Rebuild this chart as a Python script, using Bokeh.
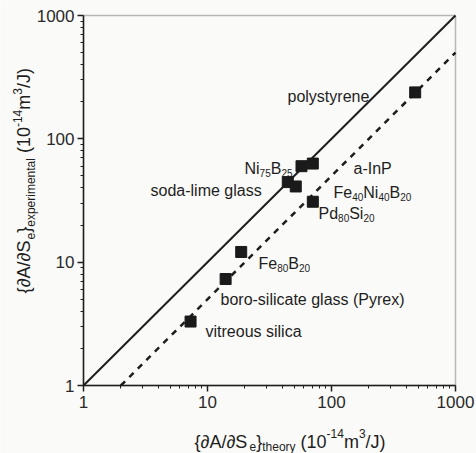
from math import pi
from bokeh.plotting import figure
from bokeh.models import Label, FixedTicker, Range1d, BasicTickFormatter, BoxAnnotation
from bokeh.embed import file_html
from bokeh.resources import INLINE

# ---------------- data ----------------
materials = ["vitreous silica", "boro-silicate glass (Pyrex)", "Fe80B20", "soda-lime glass",
             "Fe40Ni40B20", "Ni75B25", "a-InP", "Pd80Si20", "polystyrene"]
theory = [7.3, 14.0, 18.7, 44.4, 51.5, 57.3, 70.7, 70.7, 473.0]
experimental = [3.3, 7.3, 12.1, 44.6, 41.1, 60.0, 63.0, 30.9, 238.0]
ideal_x = [1, 1000]
ideal_y = [1, 1000]
half_x = [2, 1000]
half_y = [1, 500]
axis_lo, axis_hi = 1, 1000
major_ticks = [1, 10, 100, 1000]
minor_ticks = [m * d for d in (1, 10, 100) for m in range(2, 10)]

INK = "#1e1e1e"
BG = "#fafaf8"
FONT = "Liberation Sans"

# canvas geometry: the axes box spans these pixels; the frame covers the whole canvas
WIDTH, HEIGHT = 476, 453
BOX_L, BOX_R, BOX_T, BOX_B = 83, 455, 15, 385
DEC_X = (BOX_R - BOX_L) / 3.0
DEC_Y = (BOX_B - BOX_T) / 3.0
x_range = Range1d(10 ** (-BOX_L / DEC_X), 10 ** ((WIDTH - BOX_L) / DEC_X))
y_range = Range1d(10 ** ((BOX_B - HEIGHT) / DEC_Y), 10 ** (BOX_B / DEC_Y))

p = figure(width=WIDTH, height=HEIGHT, x_axis_type="log", y_axis_type="log",
           x_range=x_range, y_range=y_range,
           output_backend="svg", toolbar_location=None, min_border=0)
p.background_fill_color = BG
p.border_fill_color = BG
p.outline_line_color = None
p.xgrid.visible = False
p.ygrid.visible = False

p.add_layout(BoxAnnotation(left=axis_lo, right=axis_hi, bottom=axis_lo, top=axis_hi,
                           fill_alpha=0, line_color=INK, line_width=1.5))

for ax in (p.xaxis, p.yaxis):
    ax.fixed_location = axis_lo
    ax.bounds = (axis_lo, axis_hi)
    ax.ticker = FixedTicker(ticks=major_ticks, minor_ticks=minor_ticks)
    ax.formatter = BasicTickFormatter(use_scientific=False)
    ax.axis_line_color = INK
    ax.axis_line_width = 1.5
    ax.major_tick_line_color = INK
    ax.major_tick_line_width = 1.5
    ax.minor_tick_line_color = INK
    ax.minor_tick_line_width = 1
    ax.major_tick_in = 0
    ax.major_tick_out = 6
    ax.minor_tick_in = 0
    ax.minor_tick_out = 3
    ax.major_label_text_font = FONT
    ax.major_label_text_font_size = "17px"
    ax.major_label_text_color = "#2a2a2a"
p.xaxis.major_label_standoff = 4
p.yaxis.major_label_standoff = 3

p.line(ideal_x, ideal_y, line_color=INK, line_width=2)
p.line(half_x, half_y, line_color=INK, line_width=2.5, line_dash="6 6")
p.scatter(theory, experimental, marker="square", size=11, color="#1a1a1a")

# ---------------- rich text helper ----------------
W = {' ': 278, '(': 333, ')': 333, '{': 334, '}': 334, '/': 278, '-': 333, '.': 278,
     'A': 667, 'B': 667, 'F': 611, 'I': 278, 'J': 500, 'N': 722, 'P': 667, 'S': 667,
     'a': 556, 'b': 556, 'c': 500, 'd': 556, 'e': 556, 'g': 556, 'h': 556, 'i': 222,
     'l': 222, 'm': 833, 'n': 556, 'o': 556, 'p': 556, 'r': 333, 's': 500, 't': 278,
     'u': 556, 'v': 500, 'x': 500, 'y': 500, '\u2202': 556}


def tw(s, size):
    return sum(W.get(c, 556) for c in s) / 1000.0 * size


def rich(parts, px, py, size, small, vertical=False, color=INK):
    """Text runs with sub/superscripts; (px, py) is the canvas pixel of the baseline start."""
    pos = 0.0
    for txt, kind in parts:
        fs = size if kind == "n" else small
        shift = 0.0 if kind == "n" else (-0.28 * size if kind == "sub" else 0.42 * size)
        lead = len(txt) - len(txt.lstrip(" "))
        pos += tw(" " * lead, fs)
        core = txt.strip(" ")
        w = tw(core, fs)
        ox, oy = px - BOX_L, BOX_B - py
        if vertical:
            # each run centred on its own box so that rotation cannot shift it
            xo = ox - shift - 0.33 * fs
            yo = oy + pos + w / 2
            kw = dict(angle=pi / 2, text_align="center", text_baseline="middle")
        else:
            xo, yo = ox + pos, oy + shift
            kw = dict(angle=0, text_align="left", text_baseline="alphabetic")
        p.add_layout(Label(x=axis_lo, y=axis_lo, x_offset=xo, y_offset=yo, text=core,
                           text_font=FONT, text_font_size=f"{fs}px", text_color=color, **kw))
        pos += w


S, s = 16, 10
rich([("polystyrene", "n")], 287, 96, S, s)
rich([("Ni", "n"), ("75", "sub"), ("B", "n"), ("25", "sub")], 244, 168, S, s)
rich([("a-InP", "n")], 353, 168, S, s)
rich([("soda-lime glass", "n")], 150, 190, S, s)
rich([("Fe", "n"), ("40", "sub"), ("Ni", "n"), ("40", "sub"), ("B", "n"), ("20", "sub")], 333, 192, S, s)
rich([("Pd", "n"), ("80", "sub"), ("Si", "n"), ("20", "sub")], 318, 213, S, s)
rich([("Fe", "n"), ("80", "sub"), ("B", "n"), ("20", "sub")], 258, 263, S, s)
rich([("boro-silicate glass (Pyrex)", "n")], 220, 299, S, s)
rich([("vitreous silica", "n")], 205, 331, S, s)

axis_tail = [(" (10", "n"), ("-14", "sup"), ("m", "n"), ("3", "sup"), ("/J)", "n")]
rich([("{\u2202A/\u2202S", "n"), ("e", "sub"), ("}", "n"), ("theory", "sub")] + axis_tail,
     194, 441, 18, 12)
rich([("{\u2202A/\u2202S", "n"), ("e", "sub"), ("}", "n"), ("experimental", "sub")] + axis_tail,
     29, 294, 18, 12, vertical=True)

open("out.html", "w").write(file_html(p, INLINE))
